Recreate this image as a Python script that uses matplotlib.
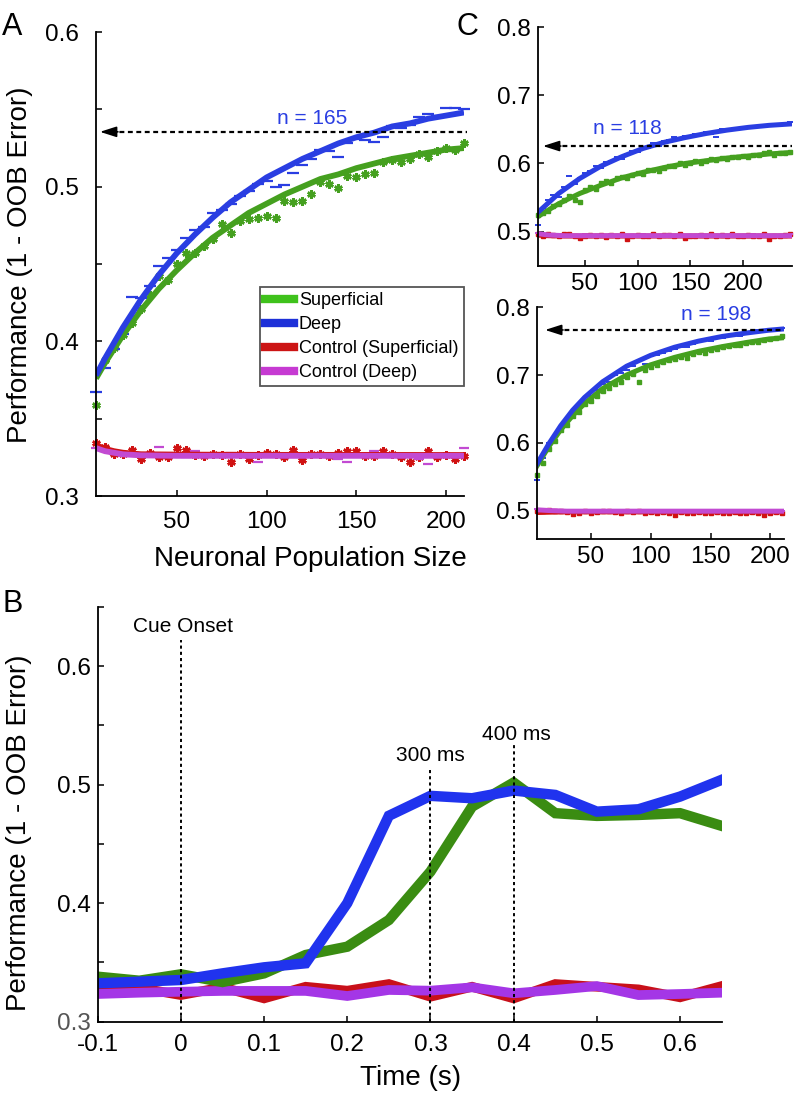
import matplotlib
matplotlib.use("Agg")
import matplotlib.pyplot as plt
from matplotlib.lines import Line2D

plt.rcParams['font.family'] = ['Liberation Sans', 'DejaVu Sans']

# ---------------- Panel A data ----------------
xA = list(range(5, 211, 5))
supA = [0.359, 0.388, 0.396, 0.404, 0.412, 0.421, 0.430, 0.442, 0.440, 0.450,
        0.457, 0.457, 0.462, 0.466, 0.476, 0.470, 0.478, 0.479, 0.480, 0.481,
        0.480, 0.491, 0.490, 0.491, 0.4955, 0.503, 0.502, 0.499, 0.507, 0.506,
        0.508, 0.509, 0.516, 0.517, 0.516, 0.518, 0.521, 0.519, 0.523, 0.525,
        0.524, 0.528]
deepA = [0.367, 0.383, 0.395, 0.405, 0.429, 0.428, 0.436, 0.449, 0.454, 0.459,
         0.467, 0.472, 0.474, 0.483, 0.485, 0.489, 0.494, 0.497, 0.502, 0.504,
         0.500, 0.501, 0.509, 0.514, 0.518, 0.524, 0.523, 0.519, 0.528, 0.531,
         0.530, 0.529, 0.532, 0.539, 0.538, 0.540, 0.545, 0.547, 0.546, 0.551,
         0.551, 0.550]
ctlSupA = [0.334, 0.332, 0.327, 0.327, 0.330, 0.324, 0.328, 0.325, 0.325, 0.331,
           0.330, 0.3265, 0.326, 0.327, 0.3265, 0.322, 0.327, 0.324, 0.3265, 0.328,
           0.327, 0.325, 0.330, 0.323, 0.327, 0.3275, 0.326, 0.328, 0.329, 0.329,
           0.326, 0.326, 0.329, 0.3275, 0.325, 0.322, 0.325, 0.329, 0.325, 0.3265,
           0.324, 0.326]
ctlDeepA = [0.331, 0.329, 0.327, 0.326, 0.327, 0.326, 0.328, 0.332, 0.326, 0.327,
            0.325, 0.329, 0.326, 0.327, 0.326, 0.328, 0.326, 0.325, 0.322, 0.326,
            0.327, 0.326, 0.325, 0.327, 0.326, 0.328, 0.325, 0.324, 0.322, 0.326,
            0.327, 0.329, 0.326, 0.325, 0.327, 0.326, 0.324, 0.321, 0.326, 0.327,
            0.325, 0.331]
fitxA = [5, 10, 20, 30, 40, 50, 60, 70, 80, 90, 100, 110, 120, 130, 140, 150,
         160, 170, 180, 190, 200, 210]
fitDeepA = [0.378, 0.389, 0.409, 0.427, 0.443, 0.457, 0.469, 0.480, 0.490, 0.498,
            0.506, 0.512, 0.518, 0.523, 0.528, 0.532, 0.535, 0.539, 0.541, 0.544,
            0.546, 0.548]
fitSupA = [0.376, 0.386, 0.404, 0.420, 0.434, 0.446, 0.457, 0.467, 0.475, 0.483,
           0.489, 0.495, 0.500, 0.505, 0.508, 0.512, 0.515, 0.518, 0.520, 0.522,
           0.524, 0.525]
fitCxA = [5, 10, 15, 20, 30, 50, 100, 150, 210]
fitCtlSupA = [0.333, 0.3305, 0.329, 0.328, 0.327, 0.3268, 0.3266, 0.3266, 0.3265]
fitCtlDeepA = [0.331, 0.329, 0.328, 0.327, 0.3263, 0.326, 0.326, 0.326, 0.326]
nA_level = 0.5355
legend_labels = ['Superficial', 'Deep', 'Control (Superficial)', 'Control (Deep)']

# ---------------- Panel C (top) data ----------------
xC1 = list(range(5, 246, 5))
deepC1 = [0.509, 0.534, 0.546, 0.553, 0.551, 0.566, 0.581, 0.570, 0.578, 0.586,
          0.589, 0.597, 0.593, 0.602, 0.604, 0.609, 0.606, 0.614, 0.619, 0.617,
          0.624, 0.622, 0.630, 0.626, 0.633, 0.635, 0.639, 0.636, 0.640, 0.641,
          0.643, 0.642, 0.646, 0.644, 0.639, 0.650, 0.648, 0.651, 0.652, 0.650,
          0.654, 0.653, 0.655, 0.654, 0.656, 0.658, 0.657, 0.659, 0.661]
supC1 = [0.524, 0.527, 0.530, 0.538, 0.540, 0.547, 0.552, 0.546, 0.544, 0.561,
         0.565, 0.563, 0.572, 0.575, 0.572, 0.578, 0.580, 0.579, 0.583, 0.586,
         0.584, 0.590, 0.591, 0.589, 0.594, 0.597, 0.596, 0.600, 0.598, 0.601,
         0.603, 0.600, 0.604, 0.606, 0.605, 0.608, 0.607, 0.610, 0.609, 0.611,
         0.610, 0.613, 0.612, 0.615, 0.617, 0.613, 0.616, 0.615, 0.617]
ctlSupC1 = [0.496, 0.494, 0.497, 0.495, 0.493, 0.496, 0.497, 0.494, 0.491, 0.493,
            0.495, 0.494, 0.495, 0.492, 0.495, 0.494, 0.496, 0.489, 0.493, 0.495,
            0.494, 0.493, 0.496, 0.494, 0.495, 0.495, 0.493, 0.496, 0.491, 0.494,
            0.493, 0.495, 0.494, 0.496, 0.493, 0.495, 0.494, 0.496, 0.493, 0.494,
            0.495, 0.493, 0.494, 0.496, 0.489, 0.494, 0.493, 0.495, 0.496]
ctlDeepC1 = [0.498, 0.495, 0.493, 0.494, 0.496, 0.495, 0.494, 0.493, 0.495, 0.496,
             0.494, 0.495, 0.493, 0.494, 0.496, 0.495, 0.494, 0.493, 0.495, 0.494,
             0.496, 0.494, 0.493, 0.495, 0.494, 0.496, 0.495, 0.494, 0.493, 0.495,
             0.494, 0.496, 0.495, 0.493, 0.494, 0.495, 0.494, 0.496, 0.493, 0.494,
             0.495, 0.497, 0.494, 0.495, 0.493, 0.494, 0.495, 0.494, 0.496]
fitxC1 = [5, 25, 45, 65, 85, 105, 125, 145, 165, 185, 205, 225, 245]
fitDeepC1 = [0.528, 0.556, 0.578, 0.596, 0.610, 0.622, 0.631, 0.638, 0.644,
             0.649, 0.653, 0.656, 0.658]
fitSupC1 = [0.522, 0.541, 0.556, 0.568, 0.579, 0.587, 0.594, 0.600, 0.604,
            0.608, 0.611, 0.614, 0.616]
fitCxC1 = [5, 15, 30, 60, 120, 245]
fitCtlSupC1 = [0.495, 0.494, 0.4935, 0.4935, 0.4935, 0.4935]
fitCtlDeepC1 = [0.497, 0.495, 0.494, 0.494, 0.494, 0.494]
nC1_level = 0.6256

# ---------------- Panel C (bottom) data ----------------
xC2 = list(range(5, 211, 5))
deepC2 = [0.545, 0.578, 0.600, 0.608, 0.622, 0.633, 0.641, 0.657, 0.662, 0.669,
          0.678, 0.686, 0.690, 0.700, 0.703, 0.708, 0.713, 0.720, 0.716, 0.728,
          0.730, 0.733, 0.736, 0.738, 0.741, 0.742, 0.746, 0.748, 0.751, 0.750,
          0.754, 0.755, 0.757, 0.759, 0.758, 0.761, 0.763, 0.767, 0.766, 0.765,
          0.768, 0.770]
supC2 = [0.552, 0.570, 0.591, 0.603, 0.619, 0.626, 0.640, 0.645, 0.657, 0.662,
         0.669, 0.676, 0.681, 0.686, 0.690, 0.697, 0.702, 0.690, 0.708, 0.712,
         0.715, 0.719, 0.722, 0.724, 0.727, 0.725, 0.731, 0.734, 0.733, 0.737,
         0.739, 0.741, 0.743, 0.745, 0.744, 0.747, 0.749, 0.748, 0.751, 0.753,
         0.754, 0.758]
ctlSupC2 = [0.499, 0.499, 0.501, 0.500, 0.499, 0.498, 0.495, 0.497, 0.499, 0.496,
            0.498, 0.499, 0.500, 0.498, 0.497, 0.499, 0.498, 0.500, 0.497, 0.498,
            0.497, 0.498, 0.496, 0.493, 0.498, 0.496, 0.497, 0.498, 0.497, 0.496,
            0.498, 0.496, 0.497, 0.498, 0.496, 0.497, 0.498, 0.497, 0.494, 0.496,
            0.498, 0.497]
ctlDeepC2 = [0.502, 0.501, 0.500, 0.499, 0.500, 0.499, 0.498, 0.499, 0.500, 0.498,
             0.499, 0.500, 0.499, 0.498, 0.499, 0.500, 0.498, 0.499, 0.499, 0.498,
             0.500, 0.499, 0.498, 0.499, 0.500, 0.498, 0.499, 0.499, 0.500, 0.498,
             0.499, 0.498, 0.500, 0.499, 0.498, 0.499, 0.500, 0.498, 0.499, 0.500,
             0.498, 0.499]
fitxC2 = [5, 15, 25, 35, 45, 60, 80, 100, 120, 140, 160, 180, 198, 211]
fitDeepC2 = [0.568, 0.598, 0.625, 0.648, 0.667, 0.690, 0.713, 0.729, 0.741,
             0.750, 0.757, 0.762, 0.766, 0.768]
fitSupC2 = [0.565, 0.594, 0.619, 0.640, 0.658, 0.680, 0.700, 0.715, 0.726,
            0.735, 0.742, 0.748, 0.753, 0.755]
fitCxC2 = [5, 15, 30, 60, 120, 211]
fitCtlSupC2 = [0.497, 0.4975, 0.498, 0.498, 0.498, 0.498]
fitCtlDeepC2 = [0.501, 0.5, 0.499, 0.499, 0.499, 0.499]
nC2_level = 0.7665

# ---------------- Panel B data ----------------
timeB = [-0.1, -0.05, 0.0, 0.05, 0.1, 0.15, 0.2, 0.25, 0.3, 0.35, 0.4, 0.45,
         0.5, 0.55, 0.6, 0.65]
supB = [0.338, 0.3346, 0.340, 0.3335, 0.3408, 0.3563, 0.3633, 0.3858, 0.4266,
        0.4814, 0.5017, 0.4759, 0.4736, 0.4744, 0.4759, 0.4652]
deepB = [0.3324, 0.3338, 0.3352, 0.3408, 0.3459, 0.3493, 0.400, 0.4737, 0.4905,
         0.4885, 0.495, 0.4913, 0.4772, 0.4792, 0.4899, 0.504]
ctlSupB = [0.3295, 0.3285, 0.3225, 0.329, 0.3197, 0.3295, 0.3262, 0.3318,
           0.3211, 0.3295, 0.3197, 0.3318, 0.3295, 0.3273, 0.3206, 0.3301]
ctlDeepB = [0.3234, 0.3245, 0.3253, 0.326, 0.326, 0.326, 0.3217, 0.3268,
            0.3262, 0.329, 0.324, 0.3268, 0.3301, 0.3225, 0.3234, 0.3245]
eventsB = [0.0, 0.3, 0.4]
eventTopsB = [0.622, 0.5152, 0.5335]
eventLabelsB = ['Cue Onset', '300 ms', '400 ms']

# ---------------- colours ----------------
GREEN = '#45a01f'
BLUE = '#2a3ee2'
RED = '#d01212'
MAG = '#c24ad2'
LEG_COLORS = ['#3fc21c', '#1d30d8', '#cc1414', '#c63ad2']
GREEN_B = '#3a8c12'
BLUE_B = '#2033ee'
RED_B = '#c8101a'
MAG_B = '#a436e6'

fig = plt.figure(figsize=(7.96, 10.95), dpi=100)
axA = fig.add_axes([0.1206, 0.547, 0.4623, 0.4237])
axC1 = fig.add_axes([0.6755, 0.7574, 0.3191, 0.2177])
axC2 = fig.add_axes([0.6742, 0.5078, 0.3103, 0.2116])
axB = fig.add_axes([0.1227, 0.0669, 0.7839, 0.379])


def style(ax, padx, pady):
    for s in ['top', 'right']:
        ax.spines[s].set_visible(False)
    for s in ['left', 'bottom']:
        ax.spines[s].set_linewidth(1.3)
    ax.tick_params(which='both', direction='in', length=4, width=1.1,
                   labelsize=17.5, colors='black')
    ax.tick_params(axis='x', pad=padx)
    ax.tick_params(axis='y', pad=pady)


def arrow_line(ax, y, xtip, xend, head):
    ax.plot([xtip + head * 0.6, xend], [y, y], color='black', lw=1.6,
            dashes=(2.2, 1.6), clip_on=False, zorder=6)
    ax.annotate('', xy=(xtip, y), xytext=(xtip + head, y),
                arrowprops=dict(arrowstyle='-|>,head_length=1.0,head_width=0.32',
                                color='black', lw=1.2, shrinkA=0, shrinkB=0),
                annotation_clip=False, zorder=7)


ast = (6, 2, 0)

# ---------------- Panel A ----------------
axA.plot(xA, ctlSupA, ls='none', marker=ast, ms=6, mew=1.8, color=RED, clip_on=False)
axA.plot(xA, ctlDeepA, ls='none', marker='_', ms=7, mew=1.6, color=MAG, clip_on=False)
axA.plot(xA, supA, ls='none', marker=ast, ms=6, mew=1.8, color=GREEN, clip_on=False)
axA.plot(xA, deepA, ls='none', marker='_', ms=8, mew=1.6, color=BLUE, clip_on=False)
axA.plot(fitCxA, fitCtlSupA, color=RED, lw=4.2, solid_capstyle='butt')
axA.plot(fitCxA, fitCtlDeepA, color=MAG, lw=4.2, solid_capstyle='butt')
axA.plot(fitxA, fitSupA, color=GREEN, lw=4.2, solid_capstyle='butt')
axA.plot(fitxA, fitDeepA, color=BLUE, lw=4.2, solid_capstyle='butt')
axA.set_xlim(5, 210)
axA.set_ylim(0.3, 0.6)
axA.set_xticks([50, 100, 150, 200])
axA.set_yticks([0.3, 0.4, 0.5, 0.6])
axA.set_yticklabels(['0.3', '0.4', '0.5', '0.6'])
axA.set_yticks([0.35, 0.45, 0.55], minor=True)
style(axA, 11, 12)
arrow_line(axA, nA_level, 7.2, 211.5, 10)
axA.text(125.3, 0.5442, 'n = 165', color=BLUE, fontsize=15, ha='center', va='center')
handles = [Line2D([], [], color=c, lw=6) for c in LEG_COLORS]
leg = axA.legend(handles, legend_labels, loc='upper left',
                 bbox_to_anchor=(0.4457, 0.4504), borderaxespad=0, fontsize=13,
                 frameon=True, fancybox=False, edgecolor='#555555', framealpha=1,
                 handlelength=1.6, handletextpad=0.25, labelspacing=0.38,
                 borderpad=0.3)
leg.get_frame().set_linewidth(1.3)

# ---------------- Panel C top ----------------
axC1.plot(xC1, ctlSupC1, ls='none', marker='s', ms=2.5, color=RED, clip_on=False)
axC1.plot(xC1, ctlDeepC1, ls='none', marker='_', ms=5, mew=1.4, color=MAG, clip_on=False)
axC1.plot(xC1, supC1, ls='none', marker='s', ms=2.5, color=GREEN, clip_on=False)
axC1.plot(xC1, deepC1, ls='none', marker='_', ms=5, mew=1.4, color=BLUE, clip_on=False)
axC1.plot(fitCxC1, fitCtlSupC1, color=RED, lw=3.6)
axC1.plot(fitCxC1, fitCtlDeepC1, color=MAG, lw=3.6)
axC1.plot(fitxC1, fitSupC1, color=GREEN, lw=3.6)
axC1.plot(fitxC1, fitDeepC1, color=BLUE, lw=3.6)
axC1.set_xlim(5, 246.5)
axC1.set_ylim(0.45, 0.8)
axC1.set_xticks([50, 100, 150, 200])
axC1.set_yticks([0.5, 0.6, 0.7, 0.8])
axC1.set_yticklabels(['0.5', '0.6', '0.7', '0.8'])
style(axC1, 5, 5)
arrow_line(axC1, nC1_level, 10, 247, 17)
axC1.text(90.4, 0.6517, 'n = 118', color=BLUE, fontsize=15, ha='center', va='center')

# ---------------- Panel C bottom ----------------
axC2.plot(xC2, ctlSupC2, ls='none', marker='s', ms=2.5, color=RED, clip_on=False)
axC2.plot(xC2, ctlDeepC2, ls='none', marker='_', ms=5, mew=1.4, color=MAG, clip_on=False)
axC2.plot(xC2, supC2, ls='none', marker='s', ms=2.5, color=GREEN, clip_on=False)
axC2.plot(xC2, deepC2, ls='none', marker='_', ms=5, mew=1.4, color=BLUE, clip_on=False)
axC2.plot(fitCxC2, fitCtlSupC2, color=RED, lw=3.6)
axC2.plot(fitCxC2, fitCtlDeepC2, color=MAG, lw=3.6)
axC2.plot(fitxC2, fitSupC2, color=GREEN, lw=3.6)
axC2.plot(fitxC2, fitDeepC2, color=BLUE, lw=3.6)
axC2.set_xlim(5, 211)
axC2.set_ylim(0.458, 0.8)
axC2.set_xticks([50, 100, 150, 200])
axC2.set_yticks([0.5, 0.6, 0.7, 0.8])
axC2.set_yticklabels(['0.5', '0.6', '0.7', '0.8'])
style(axC2, 5, 5)
arrow_line(axC2, nC2_level, 12, 211, 15)
axC2.text(154.4, 0.7886, 'n = 198', color=BLUE, fontsize=15, ha='center', va='center')

# ---------------- Panel B ----------------
axB.plot(timeB, ctlSupB, color=RED_B, lw=7, solid_joinstyle='miter')
axB.plot(timeB, ctlDeepB, color=MAG_B, lw=7, solid_joinstyle='miter')
axB.plot(timeB, supB, color=GREEN_B, lw=7.5, solid_joinstyle='miter')
axB.plot(timeB, deepB, color=BLUE_B, lw=7.5, solid_joinstyle='miter')
for t, top, lab in zip(eventsB, eventTopsB, eventLabelsB):
    axB.plot([t, t], [0.3, top], color='black', lw=1.4, dashes=(1.6, 1.6), zorder=5)
axB.text(0.003, 0.6333, eventLabelsB[0], fontsize=15, ha='center', va='center')
axB.text(0.2998, 0.5242, eventLabelsB[1], fontsize=15, ha='center', va='center')
axB.text(0.403, 0.542, eventLabelsB[2], fontsize=15, ha='center', va='center')
axB.set_xlim(-0.1, 0.65)
axB.set_ylim(0.3, 0.65)
axB.set_xticks([-0.1, 0, 0.1, 0.2, 0.3, 0.4, 0.5, 0.6])
axB.set_xticklabels(['-0.1', '0', '0.1', '0.2', '0.3', '0.4', '0.5', '0.6'])
axB.set_yticks([0.3, 0.4, 0.5, 0.6])
axB.set_yticklabels(['0.3', '0.4', '0.5', '0.6'])
axB.set_yticks([0.35, 0.45, 0.55, 0.65], minor=True)
style(axB, 9, 5)
axB.get_yticklabels()[0].set_color('#555555')

# ---------------- labels ----------------
fig.text(0.0251, 0.758, 'Performance (1 - OOB Error)', rotation=90, fontsize=20,
         ha='center', va='center')
fig.text(0.3894, 0.4895, 'Neuronal Population Size', fontsize=20,
         ha='center', va='center')
fig.text(0.0239, 0.2393, 'Performance (1 - OOB Error)', rotation=90, fontsize=20,
         ha='center', va='center')
fig.text(0.5163, 0.0155, 'Time (s)', fontsize=20, ha='center', va='center')
fig.text(0.003, 1 - 35 / 1095, 'A', fontsize=22, va='baseline')
fig.text(0.574, 1 - 35 / 1095, 'C', fontsize=22, va='baseline')
fig.text(0.003, 1 - 612 / 1095, 'B', fontsize=22, va='baseline')

fig.savefig('out.png', dpi=100)
